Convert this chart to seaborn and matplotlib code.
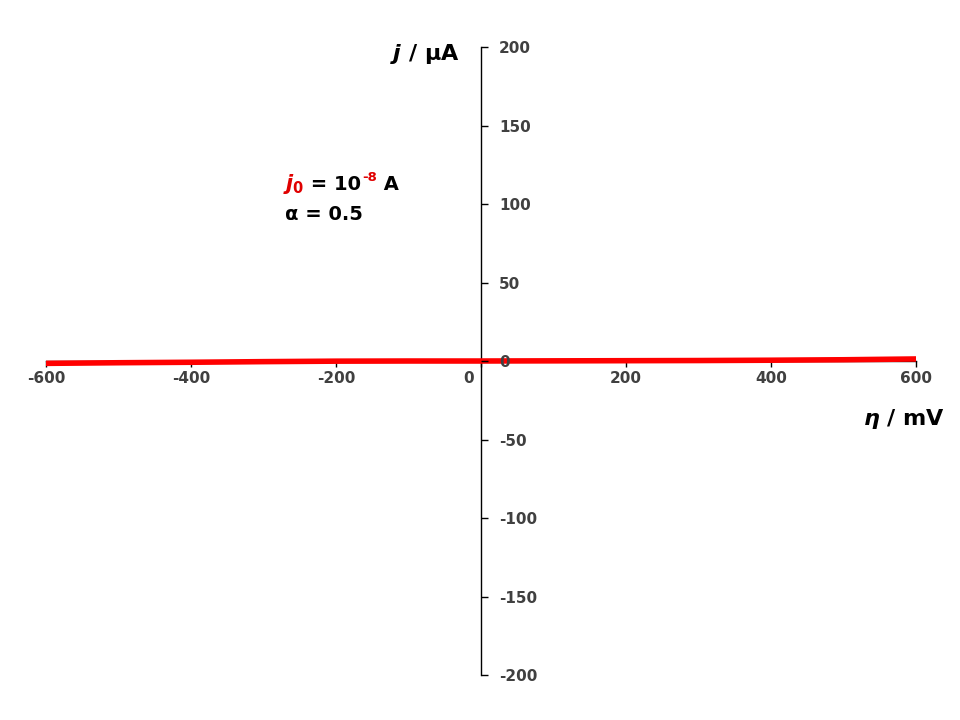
import pandas as pd
import seaborn as sns
import matplotlib.pyplot as plt

# overpotential (mV) and current (uA)
eta_mv = [-600, -500, -400, -300, -200, -100, 0, 100, 200, 300, 400, 500, 600]
j_ua = [-1.5, -1.1, -0.8, -0.4, -0.1, 0.0, 0.0, 0.1, 0.2, 0.3, 0.5, 0.8, 1.3]

x_ticks = [-600, -400, -200, 0, 200, 400, 600]
y_ticks = [-200, -150, -100, -50, 0, 50, 100, 150, 200]

sns.set_style("white")
plt.rcParams['font.family'] = ['DejaVu Sans']
plt.rcParams['font.weight'] = 'bold'
plt.rcParams['text.color'] = 'black'
plt.rcParams['mathtext.fontset'] = 'custom'
plt.rcParams['mathtext.it'] = 'DejaVu Sans:italic:bold'
plt.rcParams['mathtext.rm'] = 'DejaVu Sans:bold'

tick_grey = '#404040'
note_red = '#e00000'

df = pd.DataFrame({"eta": eta_mv, "j": j_ua})

fig = plt.figure(figsize=(9.6, 7.2), dpi=100)
ax = fig.add_axes([0.0479, 0.0625, 0.9063, 0.8722])

sns.lineplot(data=df, x="eta", y="j", color="#ff0000", linewidth=4,
             solid_capstyle='butt', ax=ax, zorder=3)

ax.set_xlim(-600, 600)
ax.set_ylim(-200, 200)
ax.set_xlabel("")
ax.set_ylabel("")

# axes cross at the origin
ax.spines['top'].set_visible(False)
ax.spines['bottom'].set_position(('data', 0))
ax.spines['left'].set_position(('data', 0))
ax.spines['right'].set_position(('data', 0))
ax.spines['right'].set_visible(False)
for s in ['bottom', 'left']:
    ax.spines[s].set_color('black')
    ax.spines[s].set_linewidth(1)

ax.xaxis.set_ticks_position('bottom')
ax.yaxis.set_ticks_position('right')
ax.set_xticks(x_ticks)
ax.set_xticklabels(["" if v == 0 else str(v) for v in x_ticks])
ax.set_yticks(y_ticks)
ax.set_yticklabels([str(v) for v in y_ticks])
ax.tick_params(axis='x', direction='out', length=4.5, width=1, pad=3,
               labelsize=11, labelcolor=tick_grey, color='black')
ax.tick_params(axis='y', direction='out', length=5, width=1, pad=8,
               labelsize=11, labelcolor=tick_grey, color='black')
ax.yaxis.set_zorder(4)

# the x "0" label sits left of the vertical axis
ax.annotate("0", xy=(0, 0), xytext=(-9, -7.5), textcoords='offset points',
            ha='center', va='top', fontsize=11, color=tick_grey)

# axis titles
fig.text(0.479, 0.917, r"$j$ / μA", ha='right', va='baseline', fontsize=16)
fig.text(0.984, 0.41, r"$\eta$ / mV", ha='right', va='baseline', fontsize=16)

# parameter note
base_y = 0.736
t1 = fig.text(283 / 960, base_y, r"$j_{\mathit{0}}$", color=note_red,
              fontsize=15, ha='left', va='baseline')
t2 = ax.annotate(" = 10", xy=(1, base_y), xycoords=(t1, 'figure fraction'),
                 ha='left', va='baseline', fontsize=14, color='black',
                 annotation_clip=False)
t3 = ax.annotate("-8", xy=(1, base_y), xycoords=(t2, 'figure fraction'),
                 xytext=(0.5, 6.5), textcoords='offset points',
                 ha='left', va='baseline', fontsize=9.5, color=note_red,
                 annotation_clip=False)
ax.annotate(" A", xy=(1, base_y), xycoords=(t3, 'figure fraction'),
            ha='left', va='baseline', fontsize=14, color='black',
            annotation_clip=False)
fig.text(285 / 960, 0.694, "α = 0.5", ha='left', va='baseline', fontsize=14)

fig.savefig("out.png", dpi=100)
